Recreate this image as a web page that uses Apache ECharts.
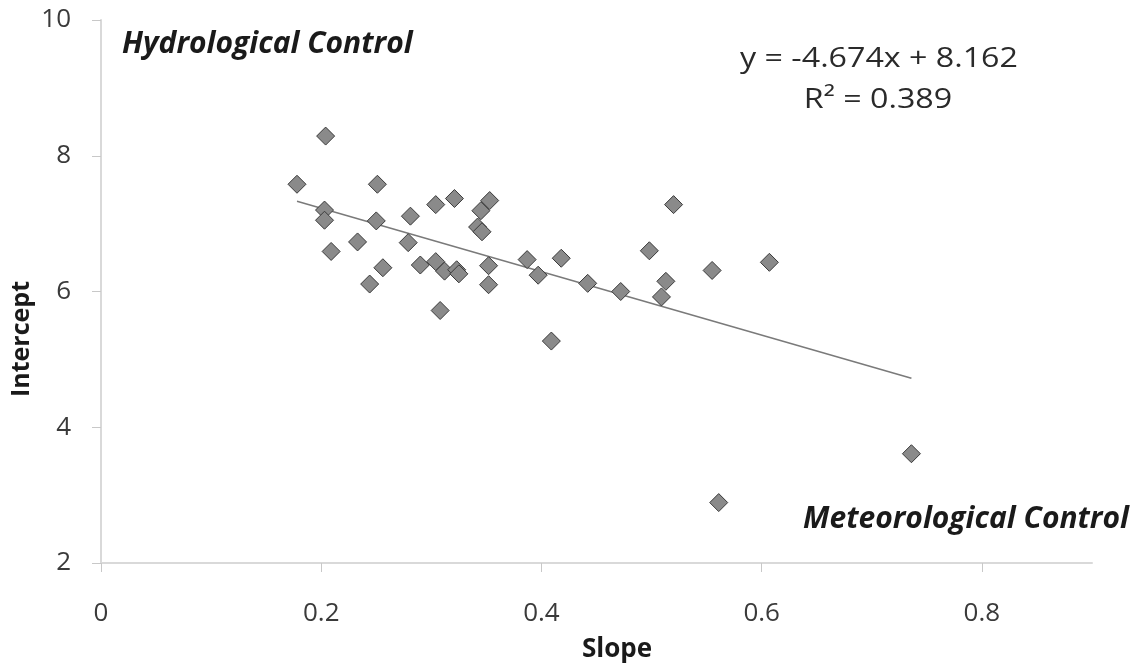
<!DOCTYPE html>
<html>
<head>
<meta charset="utf-8">
<script src="https://cdn.jsdelivr.net/npm/echarts@6/dist/echarts.min.js"></script>
<style>
html,body{margin:0;padding:0;background:#fff;}
#chart{width:1146px;height:671px;}
</style>
</head>
<body>
<div id="chart"></div>
<script>
// ---- data ----
const slopeValues = [0.178,0.204,0.203,0.203,0.209,0.233,0.251,0.250,0.244,0.256,0.281,0.279,0.290,0.304,0.304,0.308,0.312,0.321,0.323,0.325,0.345,0.353,0.342,0.346,0.352,0.352,0.387,0.397,0.409,0.418,0.442,0.472,0.498,0.513,0.509,0.520,0.555,0.607,0.561,0.736];
const interceptValues = [7.58,8.29,7.20,7.05,6.59,6.73,7.58,7.04,6.11,6.35,7.11,6.72,6.39,7.28,6.44,5.72,6.30,7.37,6.32,6.26,7.19,7.34,6.95,6.88,6.38,6.10,6.47,6.24,5.27,6.49,6.12,6.00,6.60,6.15,5.92,7.28,6.31,6.43,2.89,3.61];
const xTickValues = [0, 0.2, 0.4, 0.6, 0.8];
const yTickValues = [2, 4, 6, 8, 10];
const trendSlope = -4.674;
const trendIntercept = 8.162;
const trendR2 = 0.389;
const xAxisTitle = 'Slope';
const yAxisTitle = 'Intercept';
const topLeftNote = 'Hydrological Control';
const bottomRightNote = 'Meteorological Control';

const points = slopeValues.map((s, i) => [s, interceptValues[i]]);
const xMinData = Math.min(...slopeValues);
const xMaxData = Math.max(...slopeValues);
const trendLine = [xMinData, xMaxData].map(x => [x, trendSlope * x + trendIntercept]);
const eqText = 'y = ' + trendSlope.toFixed(3) + 'x + ' + trendIntercept.toFixed(3);
const r2Text = 'R\u00B2 = ' + trendR2.toFixed(3);

const FONT = '"Open Sans", "DejaVu Sans", sans-serif';
const chart = echarts.init(document.getElementById('chart'), null, {renderer: 'canvas'});
chart.setOption({
  animation: false,
  backgroundColor: '#ffffff',
  grid: {left: 101, top: 20, right: 54, bottom: 108, containLabel: false},
  xAxis: {
    type: 'value', min: 0, max: 0.9, interval: 0.2,
    splitLine: {show: false},
    axisLine: {show: true, onZero: false, lineStyle: {color: '#d9d9d9', width: 2}},
    axisTick: {show: true, length: 9, customValues: xTickValues, lineStyle: {color: '#c8c8c8', width: 1}},
    axisLabel: {customValues: xTickValues, margin: 38, fontFamily: FONT, fontSize: 26, color: '#3a3a3a',
      formatter: v => String(v)}
  },
  yAxis: {
    type: 'value', min: 2, max: 10, interval: 2,
    splitLine: {show: false},
    axisLine: {show: true, onZero: false, lineStyle: {color: '#d9d9d9', width: 2}},
    axisTick: {show: true, length: 9, customValues: yTickValues, lineStyle: {color: '#c8c8c8', width: 1}},
    axisLabel: {customValues: yTickValues, margin: 30, fontFamily: FONT, fontSize: 26, color: '#3a3a3a',
      padding: [10, 0, 0, 0]}
  },
  series: [
    {
      type: 'line', data: trendLine, symbol: 'none', silent: true, z: 1,
      lineStyle: {color: '#7a7a7a', width: 1.5}
    },
    {
      type: 'scatter', data: points, symbol: 'diamond', symbolSize: 18, z: 2,
      itemStyle: {color: '#8a8a8a', borderColor: '#3a3a3a', borderWidth: 1, opacity: 1}
    }
  ],
  graphic: [
    {type: 'text', x: 122, y: 44, style: {text: topLeftNote, font: 'italic bold 30px ' + FONT, fill: '#1a1a1a', textAlign: 'left', textVerticalAlign: 'middle'}},
    {type: 'text', x: 966, y: 519, style: {text: bottomRightNote, font: 'italic bold 30px ' + FONT, fill: '#1a1a1a', textAlign: 'center', textVerticalAlign: 'middle'}},
    {type: 'text', x: 879, y: 59, scaleX: 1.15, style: {text: eqText, font: '28px ' + FONT, fill: '#2a2a2a', textAlign: 'center', textVerticalAlign: 'middle'}},
    {type: 'text', x: 878, y: 100, scaleX: 1.15, style: {text: r2Text, font: '28px ' + FONT, fill: '#2a2a2a', textAlign: 'center', textVerticalAlign: 'middle'}},
    {type: 'text', x: 617, y: 650, style: {text: xAxisTitle, font: 'bold 26px ' + FONT, fill: '#1a1a1a', textAlign: 'center', textVerticalAlign: 'middle'}},
    {type: 'text', x: 22, y: 339, rotation: Math.PI / 2, style: {text: yAxisTitle, font: 'bold 25px ' + FONT, fill: '#1a1a1a', textAlign: 'center', textVerticalAlign: 'middle'}}
  ]
});
</script>
</body>
</html>
